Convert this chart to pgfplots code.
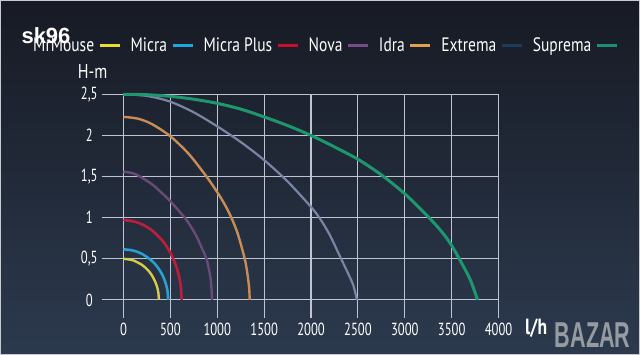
\documentclass[border=0pt]{standalone}
\usepackage{pgfplots}
\pgfplotsset{compat=1.18}
\usepackage{graphicx}
\usepackage{fontspec}
\setmainfont[FakeStretch=0.8]{PT Sans}
\newfontfamily\tickfont[FakeStretch=0.72]{PT Sans}
\newfontfamily\wmfont{Liberation Sans}
\definecolor{bgtop}{RGB}{23,26,36}
\definecolor{bgbot}{RGB}{44,58,78}
\definecolor{framec}{RGB}{200,202,206}
\definecolor{gridc}{RGB}{192,196,210}
\definecolor{cyel}{RGB}{215,205,70}
\definecolor{cblu}{RGB}{40,160,210}
\definecolor{cred}{RGB}{190,30,60}
\definecolor{cpur}{RGB}{106,74,120}
\definecolor{cora}{RGB}{200,140,85}
\definecolor{cgry}{RGB}{123,132,163}
\definecolor{cnav}{RGB}{30,58,92}
\definecolor{cgrn}{RGB}{30,150,110}
\definecolor{lyel}{RGB}{232,222,48}
\definecolor{lblu}{RGB}{31,168,224}
\definecolor{lred}{RGB}{200,16,46}
\definecolor{lpur}{RGB}{122,74,138}
\definecolor{lora}{RGB}{224,160,80}
\definecolor{lgrn}{RGB}{26,144,112}
\pgfplotsset{mylegend/.style={legend image code/.code={\draw[##1] (0pt,0pt) -- (20pt,0pt);}}}
\begin{document}
\begin{tikzpicture}[x=1pt,y=1pt]
\shade[top color=bgtop, bottom color=bgbot] (0,0) rectangle (640,355);
\draw[framec, line width=1.2pt] (0.6,0.6) rectangle (639.4,354.4);
\begin{axis}[
  at={(101.7pt,37pt)}, anchor=south west,
  scale only axis, width=396.9pt, height=223.7pt,
  xmin=-232, xmax=4000, ymin=-0.22, ymax=2.5,
  clip=false,
  axis line style={draw=none}, tick style={draw=none},
  grid=major, major grid style={gridc, line width=1.1pt},
  xtick={0,500,1000,1500,2000,2500,3000,3500,4000},
  xticklabels={0,500,1000,1500,2000,2500,3000,3500,4000},
  ytick={0,0.5,1,1.5,2,2.5},
  yticklabels={0,{0,5},1,{1,5},2,{2,5}},
  /pgf/number format/assume math mode=true,
  ticklabel style={text=white, font=\tickfont\fontsize{17.5}{19}\selectfont},
  yticklabel style={anchor=center, xshift=-12.5pt},
  xticklabel style={anchor=center, yshift=-11pt},
  legend style={at={(-0.173,1.22)}, anchor=west, draw=none, fill=none,
    text=white, font=\fontsize{19.4}{23}\selectfont, inner sep=0pt,
    column sep=0pt, nodes={inner xsep=0pt, inner ysep=1pt},
    /tikz/every odd column/.append style={column sep=4pt},
    /tikz/every even column/.append style={column sep=9.5pt}},
  legend columns=-1, legend plot pos=right,
]
% MrMouse
\addplot[cyel, line width=2.4pt, smooth, forget plot] coordinates {
(0,0.5)(100,0.482)(200,0.424)(260,0.363)(300,0.304)(340,0.218)(360,0.152)(372,0.089)(378,0)};
% Micra
\addplot[cblu, line width=2.6pt, smooth, forget plot] coordinates {
(0,0.615)(100,0.601)(200,0.558)(300,0.478)(350,0.418)(400,0.335)(430,0.266)(455,0.185)(470,0.105)(477,0)};
% Micra Plus
\addplot[cred, line width=2.6pt, smooth, forget plot] coordinates {
(0,0.97)(100,0.957)(200,0.918)(300,0.849)(400,0.741)(450,0.667)(500,0.574)(550,0.448)(580,0.343)(600,0.244)(612,0.155)(620,0)};
% Nova
\addplot[cpur, line width=2.4pt, smooth, forget plot] coordinates {
(0,1.56)(100,1.54)(176,1.5)(300,1.41)(400,1.31)(500,1.2)(600,1.07)(654,1.0)(720,0.89)(780,0.77)(840,0.62)(885,0.5)(920,0.32)(935,0.2)(945,0)};
% Idra
\addplot[cora, line width=2.4pt, smooth, forget plot] coordinates {
(0,2.225)(150,2.205)(300,2.14)(500,1.99)(700,1.77)(885,1.5)(1000,1.31)(1080,1.16)(1151,1.0)(1220,0.8)(1293,0.5)(1320,0.33)(1340,0.15)(1346,0)};
% Extrema
\addplot[cgry, line width=2.2pt, smooth, forget plot] coordinates {
(0,2.5)(250,2.48)(500,2.41)(750,2.28)(1000,2.11)(1250,1.92)(1500,1.70)(1750,1.44)(2000,1.13)(2100,0.98)(2200,0.79)(2300,0.55)(2400,0.31)(2450,0.18)(2490,0)};
% Suprema
\addplot[cgrn, line width=3pt, smooth, forget plot] coordinates {
(0,2.5)(250,2.495)(500,2.475)(750,2.44)(1000,2.39)(1250,2.32)(1500,2.225)(1750,2.12)(2000,2.0)(2250,1.86)(2500,1.71)(2750,1.52)(3000,1.29)(3250,1.01)(3400,0.82)(3500,0.66)(3600,0.46)(3700,0.24)(3775,0)};
\addlegendimage{lyel, line width=3pt, mylegend}\addlegendentry{MrMouse}
\addlegendimage{lblu, line width=3pt, mylegend}\addlegendentry{Micra}
\addlegendimage{lred, line width=3pt, mylegend}\addlegendentry{Micra Plus}
\addlegendimage{lpur, line width=3pt, mylegend}\addlegendentry{Nova}
\addlegendimage{lora, line width=3pt, mylegend}\addlegendentry{Idra}
\addlegendimage{cnav, line width=3pt, mylegend}\addlegendentry{Extrema}
\addlegendimage{lgrn, line width=3pt, mylegend}\addlegendentry{Suprema}
\node[text=white, font=\fontsize{20}{22}\selectfont] at (axis description cs:-0.023,1.104) {H-m};
\node[text={rgb,255:red,150;green,155;blue,162}, font=\wmfont\bfseries\fontsize{36}{38}\selectfont] at (axis description cs:1.237,-0.075) {\scalebox{0.6}[1]{BAZAR}};
\node[text=white, font=\bfseries\fontsize{22}{24}\selectfont, anchor=west] at (axis description cs:1.058,-0.045) {l/h};
\end{axis}
\node[text=white, font=\wmfont\bfseries\fontsize{22}{24}\selectfont] at (46,319) {sk96};
\pgfresetboundingbox
\useasboundingbox (0,0) rectangle (640,355);
\end{tikzpicture}
\end{document}
